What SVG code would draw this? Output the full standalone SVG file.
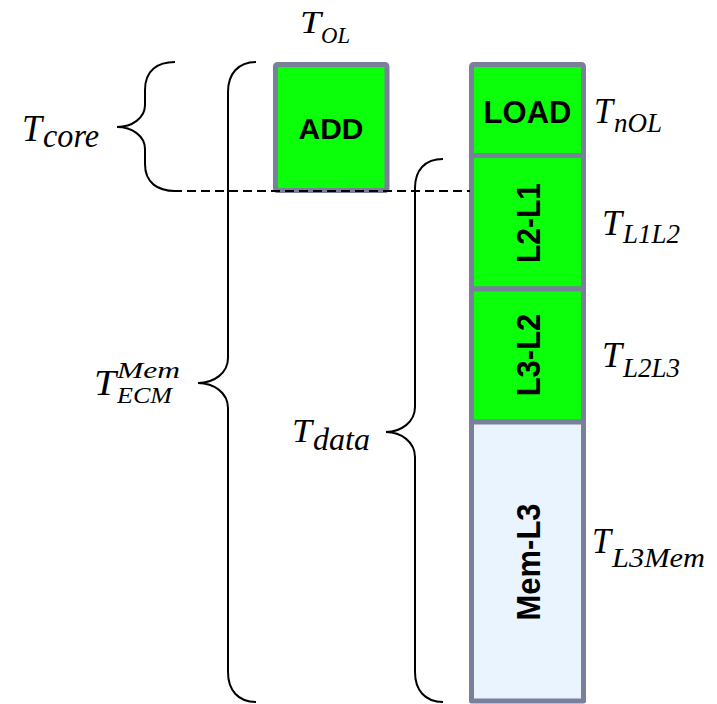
<svg xmlns="http://www.w3.org/2000/svg" width="717" height="704" viewBox="0 0 717 704">
<style>
.box{stroke:#7a7f9b;stroke-width:5;stroke-linejoin:round}
.g{fill:#0bff0b}
.b{fill:#eaf4fe}
.lbl{font-family:"Liberation Sans",Arial,sans-serif;font-weight:bold;fill:#000;text-anchor:middle}
.m{font-family:"Liberation Serif","Times New Roman",serif;font-style:italic;fill:#000}
.br{fill:none;stroke:#000;stroke-width:2}
.dash{stroke:#000;stroke-width:2;stroke-dasharray:9,5;fill:none}
</style>
<rect width="717" height="704" fill="#fff"/>
<g id="node-add">
<rect class="box g" x="275.5" y="64.5" width="111.5" height="126" rx="2"/>
<text class="lbl" x="331" y="139" font-size="30">ADD</text>
</g>
<g id="node-load">
<rect class="box g" x="471.5" y="64.5" width="112" height="91" rx="2"/>
<text class="lbl" x="527.5" y="123" font-size="31">LOAD</text>
</g>
<g id="node-l2l1">
<rect class="box g" x="471.5" y="155.5" width="112" height="133.5"/>
<text class="lbl" font-size="30" transform="translate(540,223) rotate(-90) scale(1,1.12)">L2-L1</text>
</g>
<g id="node-l3l2">
<rect class="box g" x="471.5" y="289" width="112" height="133"/>
<text class="lbl" font-size="31" transform="translate(540,355) rotate(-90) scale(1,1.1)">L3-L2</text>
</g>
<g id="node-meml3">
<rect class="box b" x="471.5" y="422" width="112" height="279"/>
<text class="lbl" font-size="31" transform="translate(540,562) rotate(-90) scale(1,1.1)">Mem-L3</text>
</g>
<g id="connectors">
<path class="dash" d="M173,191 H470"/>
<path class="br" d="M175,62 C158,62 145,70 145,90 L145,105 C145,118 132,127 117,127 C132,127 145,136 145,149 L145,164 C145,183 158,191 175,191"/>
<path class="br" d="M256,62 C238,62 228,74 228,92 L228,358 C228,373 214,383 198,383 C214,383 228,393 228,408 L228,672 C228,690 238,702 256,702"/>
<path class="br" d="M443,159 C425,159 415,170 415,188 L415,407 C415,422 401,432 386,432 C401,432 415,442 415,457 L415,672 C415,690 425,702 443,702"/>
</g>
<g id="labels">
<text class="m"><tspan x="300" y="33" font-size="32" textLength="21" lengthAdjust="spacingAndGlyphs">T</tspan><tspan x="321" y="43" font-size="24" textLength="29" lengthAdjust="spacingAndGlyphs">OL</tspan></text>
<text class="m"><tspan x="22" y="141" font-size="38" textLength="20" lengthAdjust="spacingAndGlyphs">T</tspan><tspan x="43" y="147" font-size="33" textLength="56" lengthAdjust="spacingAndGlyphs">core</tspan></text>
<text class="m"><tspan x="94" y="395" font-size="35" textLength="22" lengthAdjust="spacingAndGlyphs">T</tspan><tspan x="117" y="378" font-size="24" textLength="63" lengthAdjust="spacingAndGlyphs">Mem</tspan><tspan x="117" y="403" font-size="24" textLength="55" lengthAdjust="spacingAndGlyphs">ECM</tspan></text>
<text class="m"><tspan x="292" y="442" font-size="33" textLength="20" lengthAdjust="spacingAndGlyphs">T</tspan><tspan x="313" y="450" font-size="31" textLength="57" lengthAdjust="spacingAndGlyphs">data</tspan></text>
<text class="m"><tspan x="594" y="123" font-size="35" textLength="19" lengthAdjust="spacingAndGlyphs">T</tspan><tspan x="614" y="132" font-size="28" textLength="48" lengthAdjust="spacingAndGlyphs">nOL</tspan></text>
<text class="m"><tspan x="602" y="235" font-size="35" textLength="20" lengthAdjust="spacingAndGlyphs">T</tspan><tspan x="623" y="243" font-size="27" textLength="57" lengthAdjust="spacingAndGlyphs">L1L2</tspan></text>
<text class="m"><tspan x="602" y="367" font-size="35" textLength="20" lengthAdjust="spacingAndGlyphs">T</tspan><tspan x="623" y="377" font-size="27" textLength="57" lengthAdjust="spacingAndGlyphs">L2L3</tspan></text>
<text class="m"><tspan x="592" y="553" font-size="35" textLength="19" lengthAdjust="spacingAndGlyphs">T</tspan><tspan x="612" y="567" font-size="28" textLength="93" lengthAdjust="spacingAndGlyphs">L3Mem</tspan></text>
</g>
</svg>
